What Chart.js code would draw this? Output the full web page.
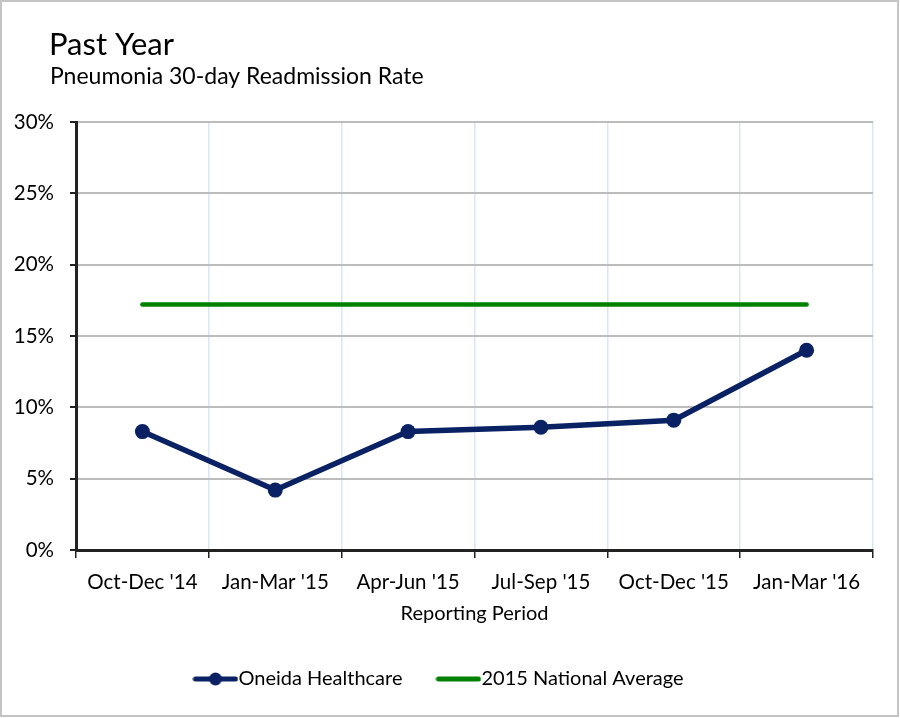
<!DOCTYPE html>
<html>
<head>
<meta charset="utf-8">
<script src="https://cdn.jsdelivr.net/npm/chart.js@4/dist/chart.umd.min.js"></script>
<style>
html,body{margin:0;padding:0;background:#fff;}
#wrap{width:900px;height:718px;position:relative;}
</style>
</head>
<body>
<div id="wrap"><canvas id="c" width="900" height="718"></canvas></div>
<script>
const categories = ["Oct-Dec '14","Jan-Mar '15","Apr-Jun '15","Jul-Sep '15","Oct-Dec '15","Jan-Mar '16"];
const oneidaValues = [8.3, 4.2, 8.3, 8.6, 9.1, 14.0];
const nationalValues = [17.2, 17.2, 17.2, 17.2, 17.2, 17.2];
const yTicks = [0, 5, 10, 15, 20, 25, 30];
const titleText = "Past Year";
const subtitleText = "Pneumonia 30-day Readmission Rate";
const xTitle = "Reporting Period";

const NAVY = '#0a2263';
const GREEN = '#008200';
const FONT = 'Lato, "Open Sans", sans-serif';

function legendImg(color, withPoint){
  const cv = document.createElement('canvas');
  cv.width = 46; cv.height = 16;
  const g = cv.getContext('2d');
  g.strokeStyle = color; g.lineWidth = 5; g.lineCap = 'round';
  g.beginPath(); g.moveTo(3, 8); g.lineTo(43, 8); g.stroke();
  if (withPoint){ g.fillStyle = color; g.beginPath(); g.arc(23, 8, 6.5, 0, Math.PI*2); g.fill(); }
  return cv;
}
const imgs = [legendImg(NAVY, true), legendImg(GREEN, false)];

const decor = {
  id: 'decor',
  afterDraw(chart){
    const ctx = chart.ctx;
    ctx.save();
    ctx.strokeStyle = '#c4c4c4'; ctx.lineWidth = 2;
    ctx.strokeRect(1, 1, 897, 715);
    ctx.fillStyle = '#000';
    ctx.textBaseline = 'alphabetic';
    ctx.textAlign = 'left';
    ctx.font = '31px ' + FONT;
    ctx.fillText(titleText, 49, 55);
    ctx.font = '23px ' + FONT;
    ctx.fillText(subtitleText, 50, 84);
    ctx.restore();
  }
};

new Chart(document.getElementById('c'), {
  type: 'line',
  data: {
    labels: categories,
    datasets: [
      { label: 'Oneida Healthcare', data: oneidaValues, borderColor: NAVY, backgroundColor: NAVY,
        borderWidth: 5.5, pointRadius: 7.5, pointHoverRadius: 7.5, pointBackgroundColor: NAVY, pointBorderWidth: 0, tension: 0 },
      { label: '2015 National Average', data: nationalValues, borderColor: GREEN, backgroundColor: GREEN,
        borderWidth: 4.5, pointRadius: 0, borderCapStyle: 'round', tension: 0 }
    ]
  },
  options: {
    responsive: false,
    animation: false,
    devicePixelRatio: 1,
    layout: { padding: { left: 13, right: 27, top: 122, bottom: 19 } },
    plugins: {
      title: { display: false },
      tooltip: { enabled: false },
      legend: {
        position: 'bottom',
        labels: {
          usePointStyle: true,
          pointStyleWidth: 26,
          padding: 43,
          color: '#000',
          font: { family: FONT, size: 20 },
          generateLabels(chart){
            return chart.data.datasets.map((ds, i) => ({
              text: ds.label, pointStyle: imgs[i], fillStyle: ds.borderColor,
              strokeStyle: ds.borderColor, lineWidth: 0, datasetIndex: i, hidden: false
            }));
          }
        }
      }
    },
    scales: {
      x: {
        offset: true,
        afterFit(s){ s.height = 76; },
        grid: { display: true, offset: true, color: '#dae6f7', lineWidth: 1.5, tickColor: '#222', tickLength: 8, drawOnChartArea: true },
        border: { color: '#222', width: 3 },
        ticks: { color: '#000', padding: 12, font: { family: FONT, size: 20.5 }, maxRotation: 0 },
        title: { display: true, text: xTitle, color: '#000', font: { family: FONT, size: 20 }, padding: { top: 0, bottom: 0 } }
      },
      y: {
        min: 0, max: 30,
        afterBuildTicks(s){ s.ticks = yTicks.map(v => ({ value: v })); },
        afterFit(s){ s.width = 63; },
        grid: { color: '#bcbcbc', lineWidth: 2, tickColor: '#222', tickLength: 6 },
        border: { color: '#222', width: 3 },
        ticks: { color: '#000', padding: 16, font: { family: FONT, size: 20.5 }, callback: v => v + '%' }
      }
    }
  },
  plugins: [decor]
});
</script>
</body>
</html>
